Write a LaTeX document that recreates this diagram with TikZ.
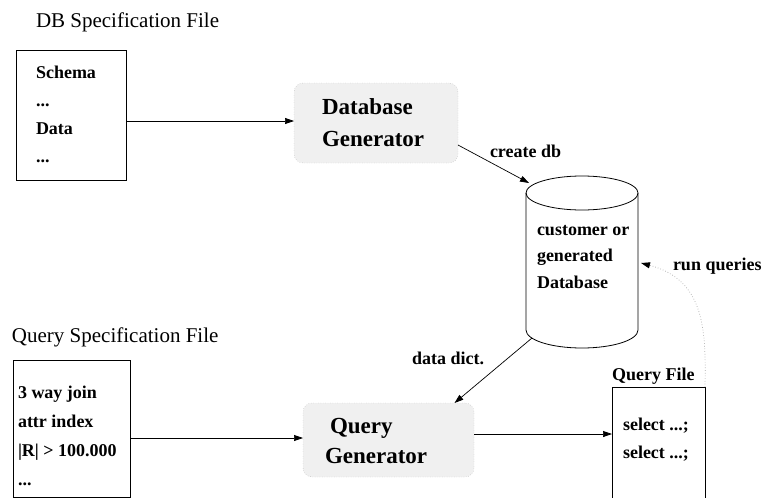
\documentclass[tikz,border=0pt]{standalone}
\usepackage{fontspec}
\setmainfont{Liberation Serif}
\usetikzlibrary{arrows.meta}
\newcommand\firstln{\rule{0pt}{14pt}}
\begin{document}
\begin{tikzpicture}[x=1pt,y=-1pt,
  every node/.style={inner sep=0pt, outer sep=0pt},
  plaintxt/.style={font=\fontsize{21}{28}\selectfont},
  boldtxt/.style={font=\fontsize{18}{28}\selectfont\bfseries, align=left},
  bigtxt/.style={font=\fontsize{23}{32}\selectfont\bfseries, align=left},
  filebox/.style={draw=black, line width=0.8pt},
  genbox/.style={fill=black!6, draw=black!35, dotted, rounded corners=9pt},
  arr/.style={-{Triangle[length=9pt,width=6pt]}, line width=0.7pt},
]
\useasboundingbox (0,0) rectangle (766,498);

% DB specification file
\node[plaintxt, anchor=base west] (dbspeclabel) at (36,27) {DB Specification File};
\node[filebox, anchor=north west, minimum width=110pt, minimum height=130pt] (dbspec) at (16,50) {};
\node[boldtxt, anchor=north west] (dbspectext) at (36,64) {\firstln Schema\\...\\Data\\...};

% Database generator
\node[genbox, anchor=north west, minimum width=164pt, minimum height=80pt] (dbgen) at (294,83) {};
\node[bigtxt, anchor=north west] (dbgentext) at (322,99) {\firstln Database\\Generator};

% Database cylinder
\draw[line width=0.8pt] (582,193) ellipse [x radius=56, y radius=17];
\draw[line width=0.8pt] (526,193) -- (526,330)
  .. controls (526,340) and (551,348) .. (582,348)
  .. controls (613,348) and (638,340) .. (638,330) -- (638,193);
\node[boldtxt, anchor=north west, font=\fontsize{18}{26.5}\selectfont\bfseries] (dbtext) at (537,221) {\firstln customer or\\generated\\Database};
\coordinate (dbtop) at (529,183);
\coordinate (dbbot) at (532,338);
\coordinate (dbright) at (641,263);

% Query specification file
\node[plaintxt, anchor=base west] (qspeclabel) at (12,342) {Query Specification File};
\node[filebox, anchor=north west, minimum width=117pt, minimum height=137pt] (qspec) at (13,360) {};
\node[boldtxt, anchor=north west, font=\fontsize{18}{29}\selectfont\bfseries] (qspectext) at (18,384) {\firstln 3 way join\\attr index\\\textbar R\textbar\ > 100.000\\...};

% Query generator
\node[genbox, anchor=north west, minimum width=171pt, minimum height=74pt] (qgen) at (303,403) {};
\node[bigtxt, anchor=north west, font=\fontsize{23}{30}\selectfont\bfseries] (qgentext) at (325,418) {\firstln\hspace*{5pt}Query\\Generator};

% Query file
\node[boldtxt, anchor=base west] (qfilelabel) at (612,380) {Query File};
\node[filebox, anchor=north west, minimum width=93pt, minimum height=140pt] (qfile) at (612,387) {};
\node[boldtxt, anchor=north west] (qfiletext) at (623,416) {\firstln select ...;\\select ...;};

% labels
\node[boldtxt, anchor=base west] (createlbl) at (490,157) {create db};
\node[boldtxt, anchor=base west] (datadictlbl) at (412,364) {data dict.};
\node[boldtxt, anchor=base west] (runqlbl) at (673,270) {run queries};

% connectors
\coordinate (dbin) at ([yshift=2pt]dbgen.west);
\draw[arr] (dbspec.east |- dbin) -- (dbin);
\coordinate (dbout) at ([yshift=-22pt]dbgen.east);
\draw[arr] (dbout) -- (dbtop);
\coordinate (qgenin) at ([xshift=66pt]qgen.north);
\draw[arr] (dbbot) -- (qgenin);
\coordinate (qgenleft) at ([yshift=2pt]qgen.west);
\draw[arr] (qspec.east |- qgenleft) -- (qgenleft);
\coordinate (qgenright) at ([yshift=6pt]qgen.east);
\draw[arr] (qgenright) -- (qfile.west |- qgenright);
\draw[black!35, dotted, line width=0.7pt, -{Triangle[length=9pt,width=6pt,color=black]}]
  (qfile.north east) .. controls (706,330) and (705,280) .. (dbright);
\end{tikzpicture}
\end{document}
